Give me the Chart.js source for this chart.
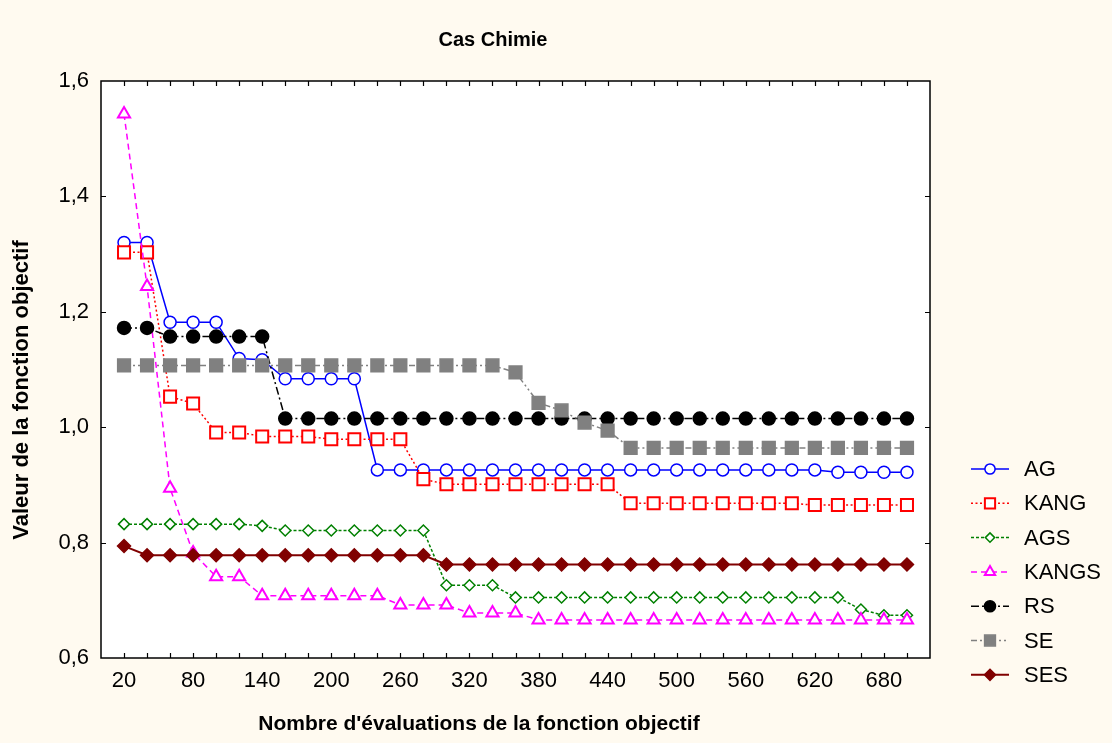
<!DOCTYPE html>
<html lang="fr">
<head>
<meta charset="utf-8">
<title>Cas Chimie</title>
<script src="https://cdn.jsdelivr.net/npm/chart.js"></script>
<style>
  html, body { margin: 0; padding: 0; background: #FFFAF0; }
  canvas { display: block; }
</style>
</head>
<body>
<canvas id="chart" width="1112" height="743"></canvas>
<script>
// Number of objective-function evaluations (x axis)
const evaluations = [20, 40, 60, 80, 100, 120, 140, 160, 180, 200, 220, 240, 260, 280, 300, 320, 340,
  360, 380, 400, 420, 440, 460, 480, 500, 520, 540, 560, 580, 600, 620, 640, 660, 680, 700];

// Best objective value found, one array per method
const agValues = [1.320, 1.320, 1.182, 1.182, 1.182, 1.119, 1.117, 1.084, 1.084, 1.084, 1.084,
  0.926, 0.926, 0.926, 0.926, 0.926, 0.926, 0.926, 0.926, 0.926, 0.926, 0.926, 0.926, 0.926, 0.926,
  0.926, 0.926, 0.926, 0.926, 0.926, 0.926, 0.922, 0.922, 0.922, 0.922];
const kangValues = [1.303, 1.303, 1.053, 1.041, 0.991, 0.991, 0.984, 0.984, 0.984, 0.979, 0.979,
  0.979, 0.979, 0.910, 0.901, 0.901, 0.901, 0.901, 0.901, 0.901, 0.901, 0.901, 0.868, 0.868, 0.868,
  0.868, 0.868, 0.868, 0.868, 0.868, 0.865, 0.865, 0.865, 0.865, 0.865];
const agsValues = [0.832, 0.832, 0.832, 0.832, 0.832, 0.832, 0.829, 0.821, 0.821, 0.821, 0.821,
  0.821, 0.821, 0.821, 0.726, 0.726, 0.726, 0.705, 0.705, 0.705, 0.705, 0.705, 0.705, 0.705, 0.705,
  0.705, 0.705, 0.705, 0.705, 0.705, 0.705, 0.705, 0.684, 0.674, 0.674];
const kangsValues = [1.543, 1.244, 0.894, 0.782, 0.741, 0.741, 0.708, 0.708, 0.708, 0.708, 0.708,
  0.708, 0.692, 0.692, 0.692, 0.678, 0.678, 0.678, 0.666, 0.666, 0.666, 0.666, 0.666, 0.666, 0.666,
  0.666, 0.666, 0.666, 0.666, 0.666, 0.666, 0.666, 0.666, 0.666, 0.666];
const rsValues = [1.172, 1.172, 1.157, 1.157, 1.157, 1.157, 1.157, 1.015, 1.015, 1.015, 1.015,
  1.015, 1.015, 1.015, 1.015, 1.015, 1.015, 1.015, 1.015, 1.015, 1.015, 1.015, 1.015, 1.015, 1.015,
  1.015, 1.015, 1.015, 1.015, 1.015, 1.015, 1.015, 1.015, 1.015, 1.015];
const seValues = [1.107, 1.107, 1.107, 1.107, 1.107, 1.107, 1.107, 1.107, 1.107, 1.107, 1.107,
  1.107, 1.107, 1.107, 1.107, 1.107, 1.107, 1.095, 1.042, 1.029, 1.008, 0.994, 0.964, 0.964, 0.964,
  0.964, 0.964, 0.964, 0.964, 0.964, 0.964, 0.964, 0.964, 0.964, 0.964];
const sesValues = [0.794, 0.778, 0.778, 0.778, 0.778, 0.778, 0.778, 0.778, 0.778, 0.778, 0.778,
  0.778, 0.778, 0.778, 0.762, 0.762, 0.762, 0.762, 0.762, 0.762, 0.762, 0.762, 0.762, 0.762, 0.762,
  0.762, 0.762, 0.762, 0.762, 0.762, 0.762, 0.762, 0.762, 0.762, 0.762];

// Axis ticks
const xLabelTicks = [20, 80, 140, 200, 260, 320, 380, 440, 500, 560, 620, 680];
const yTicks = [0.6, 0.8, 1.0, 1.2, 1.4, 1.6];

const chartTitle = 'Cas Chimie';
const xTitle = "Nombre d'évaluations de la fonction objectif";
const yTitle = 'Valeur de la fonction objectif';

const FONT = '"Liberation Sans", Arial, Helvetica, sans-serif';

function pairs(values) {
  return values.map((v, i) => ({ x: evaluations[i], y: v }));
}

function series(label, values, style) {
  return Object.assign({
    label: label,
    data: pairs(values),
    tension: 0,
    fill: false,
    borderWidth: 1.5,
    pointBorderWidth: 1.5,
    pointHoverRadius: 0
  }, style);
}

const datasets = [
  series('AG', agValues, {
    borderColor: '#0000FF', pointBorderColor: '#0000FF', pointBackgroundColor: '#FFFFFF',
    pointStyle: 'circle', pointRadius: 6, borderDash: [], order: 7
  }),
  series('KANG', kangValues, {
    borderColor: '#FF0000', pointBorderColor: '#FF0000', pointBackgroundColor: '#FFFFFF',
    pointStyle: 'rect', pointRadius: 8.5, pointBorderWidth: 2, borderDash: [2, 2.5], order: 6
  }),
  series('AGS', agsValues, {
    borderColor: '#008000', pointBorderColor: '#008000', pointBackgroundColor: '#FFFFFF',
    pointStyle: 'rectRot', pointRadius: 5.5, borderDash: [3, 2], order: 5
  }),
  series('KANGS', kangsValues, {
    borderColor: '#FF00FF', pointBorderColor: '#FF00FF', pointBackgroundColor: '#FFFFFF',
    pointStyle: 'triangle', pointRadius: 7, pointBorderWidth: 2, borderDash: [6, 4], order: 4
  }),
  series('RS', rsValues, {
    borderColor: '#000000', pointBorderColor: '#000000', pointBackgroundColor: '#000000',
    pointStyle: 'circle', pointRadius: 6.5, borderDash: [8, 3, 2, 3], order: 3
  }),
  series('SE', seValues, {
    borderColor: '#808080', pointBorderColor: '#808080', pointBackgroundColor: '#808080',
    pointStyle: 'rect', pointRadius: 9, borderDash: [6, 3, 2, 3, 2, 3], order: 2
  }),
  series('SES', sesValues, {
    borderColor: '#800000', pointBorderColor: '#800000', pointBackgroundColor: '#800000',
    pointStyle: 'rectRot', pointRadius: 6.5, borderWidth: 2, borderDash: [], order: 1
  })
];

// Paper background, white plotting area, framed axes with inward ticks, titles and legend
const decorations = {
  id: 'decorations',
  beforeDraw(chart) {
    const { ctx, chartArea: a } = chart;
    ctx.save();
    ctx.fillStyle = '#FFFAF0';
    ctx.fillRect(0, 0, chart.width, chart.height);
    ctx.fillStyle = '#FFFFFF';
    ctx.fillRect(a.left, a.top, a.right - a.left, a.bottom - a.top);
    ctx.restore();
  },
  afterDraw(chart) {
    const { ctx, chartArea: a, scales } = chart;
    const tick = 5;
    ctx.save();
    ctx.strokeStyle = '#000000';
    ctx.lineWidth = 1.5;
    ctx.setLineDash([]);
    ctx.strokeRect(a.left, a.top, a.right - a.left, a.bottom - a.top);

    ctx.lineWidth = 1.2;
    ctx.beginPath();
    scales.x.ticks.forEach(t => {
      const px = Math.round(scales.x.getPixelForValue(t.value)) + 0.5;
      if (px <= a.left + 1 || px >= a.right - 1) return;
      ctx.moveTo(px, a.bottom); ctx.lineTo(px, a.bottom - tick);
      ctx.moveTo(px, a.top); ctx.lineTo(px, a.top + tick);
    });
    scales.y.ticks.forEach(t => {
      const py = Math.round(scales.y.getPixelForValue(t.value)) + 0.5;
      if (py <= a.top + 1 || py >= a.bottom - 1) return;
      ctx.moveTo(a.left, py); ctx.lineTo(a.left + tick, py);
      ctx.moveTo(a.right, py); ctx.lineTo(a.right - tick, py);
    });
    ctx.stroke();

    // titles
    ctx.fillStyle = '#000000';
    ctx.textAlign = 'center';
    ctx.textBaseline = 'middle';
    ctx.font = 'bold 20px ' + FONT;
    ctx.fillText(chartTitle, 493, 40);
    ctx.font = 'bold 21px ' + FONT;
    ctx.fillText(xTitle, 479, 724);
    ctx.save();
    ctx.translate(22, 390);
    ctx.rotate(-Math.PI / 2);
    ctx.font = 'bold 22px ' + FONT;
    ctx.fillText(yTitle, 0, 0);
    ctx.restore();

    // legend: line sample with its marker, then the series name
    const order = ['AG', 'KANG', 'AGS', 'KANGS', 'RS', 'SE', 'SES'];
    const x0 = 971, x1 = 1009, xm = 990, y0 = 469, step = 34.3;
    order.forEach((name, i) => {
      const ds = chart.data.datasets.find(d => d.label === name);
      const y = y0 + i * step;
      ctx.save();
      ctx.strokeStyle = ds.borderColor;
      ctx.lineWidth = ds.borderWidth;
      ctx.setLineDash(ds.borderDash || []);
      ctx.beginPath();
      ctx.moveTo(x0, y); ctx.lineTo(x1, y);
      ctx.stroke();
      ctx.setLineDash([]);
      ctx.fillStyle = ds.pointBackgroundColor;
      ctx.strokeStyle = ds.pointBorderColor;
      ctx.lineWidth = ds.pointBorderWidth;
      Chart.helpers.drawPoint(ctx, {
        pointStyle: ds.pointStyle, radius: ds.pointRadius * 0.85,
        rotation: 0, borderWidth: ds.pointBorderWidth
      }, xm, y);
      ctx.restore();
      ctx.fillStyle = '#000000';
      ctx.textAlign = 'left';
      ctx.textBaseline = 'middle';
      ctx.font = '22px ' + FONT;
      ctx.fillText(name, 1024, y + 1);
    });
    ctx.restore();
  }
};

new Chart(document.getElementById('chart'), {
  type: 'line',
  data: { datasets: datasets },
  plugins: [decorations],
  options: {
    responsive: false,
    animation: false,
    events: [],
    layout: { padding: { left: 0, top: 81, right: 182, bottom: 0 } },
    plugins: {
      legend: { display: false },
      title: { display: false },
      tooltip: { enabled: false }
    },
    scales: {
      x: {
        type: 'linear',
        min: 0,
        max: 720,
        afterFit(scale) { scale.height = 85; },
        grid: { display: false, drawTicks: false },
        border: { display: false },
        ticks: {
          stepSize: 20,
          autoSkip: false,
          maxRotation: 0,
          minRotation: 0,
          padding: 10,
          color: '#000000',
          font: { family: FONT, size: 22 },
          callback: v => (xLabelTicks.includes(v) ? String(v) : '')
        }
      },
      y: {
        type: 'linear',
        min: yTicks[0],
        max: yTicks[yTicks.length - 1],
        afterFit(scale) { scale.width = 101; },
        grid: { display: false, drawTicks: false },
        border: { display: false },
        ticks: {
          stepSize: 0.2,
          padding: 12,
          color: '#000000',
          font: { family: FONT, size: 22 },
          callback: v => Number(v).toFixed(1).replace('.', ',')
        }
      }
    }
  }
});
</script>
</body>
</html>
